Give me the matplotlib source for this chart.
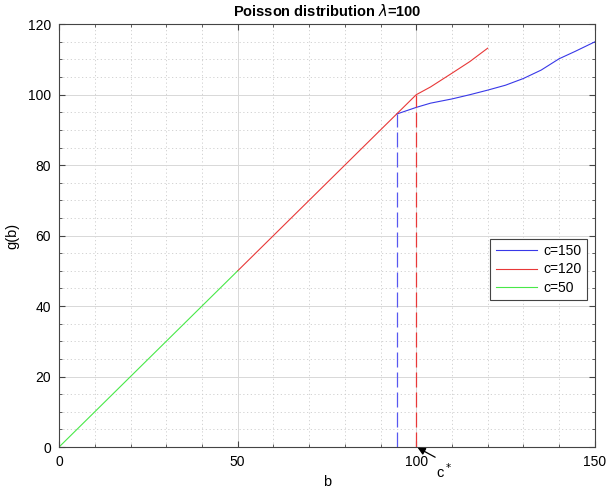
import matplotlib
matplotlib.use("Agg")
import matplotlib.pyplot as plt
from matplotlib.ticker import MultipleLocator

plt.rcParams["font.family"] = ["Liberation Sans", "DejaVu Sans"]

# curve samples (each curve only where it is visible;
# below its kink it runs under the next curve along g=b)
b_150 = [94.5, 100, 104, 110, 115, 120, 125, 130, 135, 140, 144.5, 150]
g_150 = [94.5, 96.4, 97.6, 98.8, 100.0, 101.3, 102.7, 104.6, 107.0, 110.2, 112.3, 115.0]

b_120 = [50, 94.5, 100, 104, 110, 115, 120]
g_120 = [50, 94.5, 100, 102.2, 106.1, 109.4, 113.2]

b_50 = [0, 50]
g_50 = [0, 50]

c_star = [94.5, 100]        # dashed drop lines (c=150, c=120)
c_star_g = [94.5, 100]
labels = ["c=150", "c=120", "c=50"]
colors = ["#3838e8", "#e83838", "#48e848"]

fig = plt.figure(figsize=(6.06, 4.91), dpi=100)
ax = fig.add_axes([0.0975, 0.0896, 0.884, 0.861])

ax.plot(b_150, g_150, color=colors[0], lw=0.8, label=labels[0])
ax.plot(b_120, g_120, color=colors[1], lw=0.8, label=labels[1])
ax.plot(b_50, g_50, color=colors[2], lw=0.8, label=labels[2])

for x, y, c in zip(c_star, c_star_g, ["#5858f0", colors[1]]):
    ax.plot([x, x], [0, y], color=c, lw=0.9, ls=(0, (12, 4)))

ax.set_xlim(0, 150)
ax.set_ylim(0, 120)
ax.xaxis.set_major_locator(MultipleLocator(50))
ax.xaxis.set_minor_locator(MultipleLocator(10))
ax.yaxis.set_major_locator(MultipleLocator(20))
ax.yaxis.set_minor_locator(MultipleLocator(5))
ax.grid(True, which="major", color="#d8d8d8", lw=0.7)
ax.grid(True, which="minor", color="#cccccc", lw=0.6, ls=(0, (1.5, 3)))
ax.set_axisbelow(True)
ax.tick_params(which="both", direction="in", top=True, right=True,
               labelsize=10, color="#444444")
ax.tick_params(which="major", length=4, pad=6)
ax.tick_params(which="minor", length=2)
for s in ax.spines.values():
    s.set_color("#444444")
    s.set_linewidth(0.8)

ax.set_title(r"Poisson distribution $\lambda$=100", fontsize=10.5, fontweight="bold", pad=6)
ax.set_xlabel("b", fontsize=10.5, labelpad=4)
ax.set_ylabel("g(b)", fontsize=10.5, labelpad=6)

ax.annotate("", xy=(100.4, -0.2), xytext=(105.3, -2.9),
            arrowprops=dict(arrowstyle="-|>", color="k", lw=0.9, mutation_scale=11,
                            shrinkA=0, shrinkB=0),
            annotation_clip=False)
ax.text(107.8, -7.0, r"c$^*$", fontsize=10.5, ha="center", va="center", clip_on=False)

leg = ax.legend(loc="center right", bbox_to_anchor=(0.985, 0.42), fontsize=10,
                fancybox=False, framealpha=1, edgecolor="#444444", borderaxespad=0,
                handlelength=3.0, handletextpad=0.4, borderpad=0.4, labelspacing=0.3)
leg.get_frame().set_linewidth(0.8)

fig.savefig("out.png", dpi=100)
